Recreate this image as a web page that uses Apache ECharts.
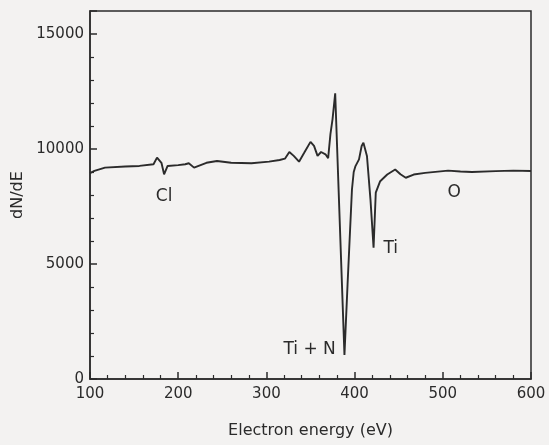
<!DOCTYPE html>
<html>
<head>
<meta charset="utf-8">
<script src="https://cdn.jsdelivr.net/npm/echarts@6/dist/echarts.min.js"></script>
<style>
  html, body { margin: 0; padding: 0; background: #f3f2f1; }
  #chart { width: 549px; height: 445px; }
</style>
</head>
<body>
<div id="chart"></div>
<script>
// electron energy (eV) and dN/dE values
const energy = [100, 105, 117, 140, 156, 172, 176, 181, 184, 188, 200, 208, 212, 218, 232, 244, 260, 283, 303, 315,
  321, 326, 331, 337, 343, 350, 354, 358, 362, 367, 370, 372.6, 375, 378, 388.5, 392, 397, 399, 401, 405,
  408, 410, 414, 418, 421.5, 424, 429, 437, 446, 452, 458, 467, 480, 506, 520, 533, 560, 580, 600];
const dNdE = [8950, 9046, 9190, 9240, 9264, 9336, 9627, 9400, 8900, 9264, 9300, 9336, 9380, 9190, 9400, 9480, 9400, 9380, 9450, 9520,
  9580, 9870, 9700, 9450, 9845, 10310, 10135, 9700, 9870, 9770, 9600, 10650, 11300, 12420, 1050, 4100, 8240, 9000, 9257, 9550,
  10130, 10275, 9700, 7800, 5710, 8100, 8600, 8890, 9110, 8900, 8750, 8890, 8960, 9060, 9020, 9000, 9040, 9060, 9046];

// peak labels
const peakNames = ["Cl", "Ti + N", "Ti", "O"];
const peakX = [184, 349, 441, 513];
const peakY = [7950, 1300, 5650, 8100];

const ink = "#2b2b2b";
const chart = echarts.init(document.getElementById("chart"));

chart.setOption({
  backgroundColor: "#f3f2f1",
  animation: false,
  textStyle: { fontFamily: "DejaVu Sans", color: ink },
  grid: {
    left: 90, right: 18, top: 11, bottom: 66,
    show: true, borderColor: ink, borderWidth: 1.5,
  },
  xAxis: {
    type: "value",
    min: 100, max: 600, interval: 100,
    name: "Electron energy (eV)",
    nameLocation: "middle",
    nameGap: 44,
    nameTextStyle: { fontSize: 16, color: ink },
    axisLine: { lineStyle: { color: ink, width: 1.5 } },
    axisTick: { inside: true, length: 7, lineStyle: { color: ink, width: 1.5 } },
    minorTick: { show: true, splitNumber: 5, length: 4, lineStyle: { color: ink, width: 1.2 } },
    axisLabel: { fontSize: 15, color: ink, margin: 8 },
    splitLine: { show: false },
  },
  yAxis: {
    type: "value",
    min: 0, max: 16000, interval: 5000,
    name: "dN/dE",
    nameLocation: "middle",
    nameGap: 58,
    nameTextStyle: { fontSize: 16, color: ink },
    axisLine: { lineStyle: { color: ink, width: 1.5 } },
    axisTick: { inside: true, length: 7, lineStyle: { color: ink, width: 1.5 } },
    minorTick: { show: true, splitNumber: 5, length: 4, lineStyle: { color: ink, width: 1.2 } },
    axisLabel: {
      fontSize: 15, color: ink, margin: 6,
      formatter: v => (v % 5000 === 0 && v <= 15000 ? String(v) : ""),
    },
    splitLine: { show: false },
  },
  series: [
    {
      type: "line",
      data: energy.map((e, i) => [e, dNdE[i]]),
      showSymbol: false,
      lineStyle: { color: ink, width: 1.9 },
    },
    {
      type: "scatter",
      symbolSize: 0,
      itemStyle: { opacity: 1, color: ink },
      data: peakNames.map((n, i) => ({ name: n, value: [peakX[i], peakY[i]] })),
      label: {
        show: true, position: "inside", formatter: p => p.name,
        fontSize: 17, color: ink, fontFamily: "DejaVu Sans",
      },
    },
  ],
});
</script>
</body>
</html>
